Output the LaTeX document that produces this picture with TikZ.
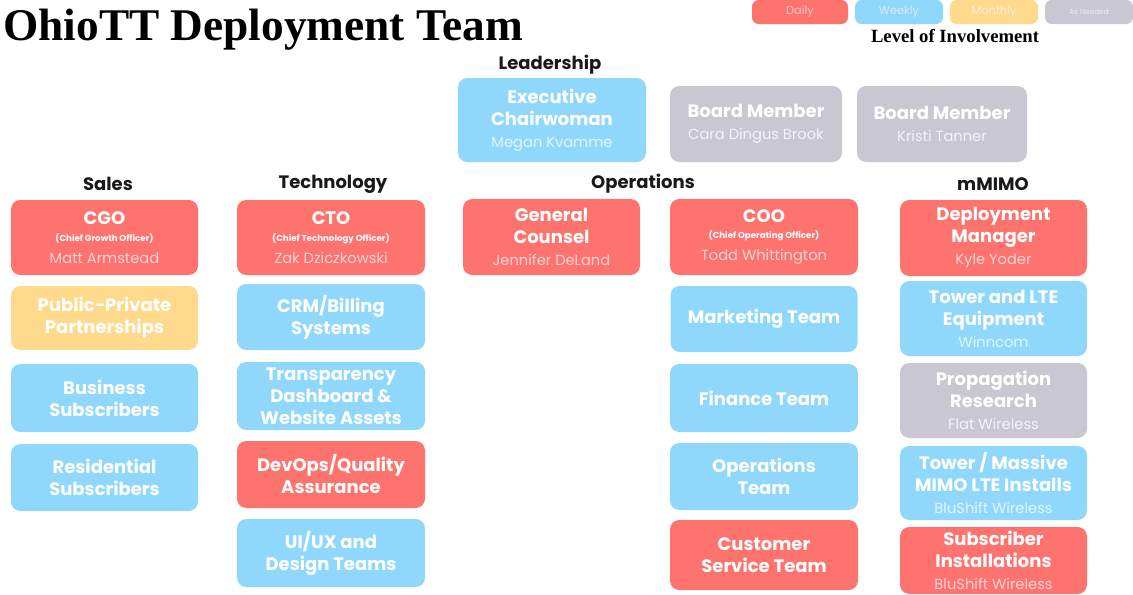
\documentclass[tikz,border=0pt]{standalone}
\usepackage{fontspec}
\setmainfont{Liberation Serif}
\newfontfamily\popfont{Poppins}
\usetikzlibrary{positioning}

\definecolor{dailyred}{HTML}{FF736F}
\definecolor{weeklyblue}{HTML}{8FD8FC}
\definecolor{monthlyyellow}{HTML}{FFD98C}
\definecolor{neededgray}{HTML}{C8C7D2}

% name line and small role line inside a card
\newcommand{\who}[1]{\\{\fontsize{11}{13}\mdseries\color{namecol}#1}}
\newcommand{\role}[1]{\\[-4pt]{\fontsize{6.5}{7}\selectfont #1}}

\tikzset{
  card/.style 2 args={rounded corners=7pt, text=white, align=center,
    minimum width=#1*0.75pt, minimum height=#2*0.75pt, inner sep=1pt,
    font=\popfont\bfseries\fontsize{13.5}{16.5}\selectfont},
  daily/.style={card={#1}, fill=dailyred,
    execute at begin node={\colorlet{namecol}{white!70!dailyred}}},
  weekly/.style={card={#1}, fill=weeklyblue,
    execute at begin node={\colorlet{namecol}{white!75!weeklyblue}}},
  monthly/.style={card={#1}, fill=monthlyyellow,
    execute at begin node={\colorlet{namecol}{white!70!monthlyyellow}}},
  asneeded/.style={card={#1}, fill=neededgray,
    execute at begin node={\colorlet{namecol}{white!80!neededgray}}},
  head/.style={font=\popfont\bfseries\fontsize{13.5}{15}\selectfont, text=black!90},
  key/.style={rounded corners=5pt, minimum width=#1*0.75pt, minimum height=18pt,
    font=\popfont\fontsize{8.5}{10}\selectfont}
}

\begin{document}
\begin{tikzpicture}[x=0.75pt,y=-0.75pt]
\useasboundingbox (0,0) rectangle (1133,594);

\node[anchor=base west, inner sep=0pt, font=\bfseries\fontsize{34}{38}\selectfont] (title) at (3,40) {OhioTT Deployment Team};

% legend
\node[key=96, fill=dailyred, text=white!60!dailyred] (kdaily) at (800,12) {Daily};
\node[key=88, fill=weeklyblue, text=white!60!weeklyblue] (kweekly) at (899,12) {Weekly};
\node[key=88, fill=monthlyyellow, text=white!60!monthlyyellow] (kmonthly) at (994,12) {Monthly};
\node[key=88, fill=neededgray, text=white!70!neededgray, font=\popfont\fontsize{5.5}{7}\selectfont] (kneeded) at (1089,12) {As Needed};
\node[font=\bfseries\fontsize{14}{16}\selectfont] (keytitle) at (955,36) {Level of Involvement};

% leadership
\node[head] (leadhead) at (550,65) {Leadership};
\node[weekly={188}{84}] (chair) at (552,120) {Executive\\Chairwoman\who{Megan Kvamme}};
\node[asneeded={172}{76}] (board1) at (756,124) {Board Member\who{Cara Dingus Brook}};
\node[asneeded={170}{76}] (board2) at (942,124) {Board Member\who{Kristi Tanner}};

% sales
\node[head] (saleshead) at (108,184) {Sales};
\node[daily={187}{75}] (cgo) at (104.5,237.5) {CGO\role{(Chief Growth Officer)}\who{Matt Armstead}};
\node[monthly={187}{64}] (ppp) at (104.5,318) {Public-Private\\Partnerships};
\node[weekly={187}{68}] (business) at (104.5,398) {Business\\Subscribers};
\node[weekly={187}{67}] (residential) at (104.5,477.5) {Residential\\Subscribers};

% technology
\node[head] (techhead) at (333,184) {Technology};
\node[daily={188}{75}] (cto) at (331,237.5) {CTO\role{(Chief Technology Officer)}\who{Zak Dziczkowski}};
\node[weekly={188}{66}] (crm) at (331,317) {CRM/Billing\\Systems};
\node[weekly={188}{68}] (transparency) at (331,396) {Transparency\\Dashboard \&\\Website Assets};
\node[daily={188}{67}] (devops) at (331,474.5) {DevOps/Quality\\Assurance};
\node[weekly={188}{68}] (uiux) at (331,553) {UI/UX and\\Design Teams};

% operations
\node[head] (opshead) at (643,184) {Operations};
\node[daily={177}{76}] (counsel) at (551.5,237) {General\\Counsel\who{Jennifer DeLand}};
\node[daily={188}{76}] (coo) at (764,237) {COO\role{(Chief Operating Officer)}\who{Todd Whittington}};
\node[weekly={187}{66}] (marketing) at (764,319) {Marketing Team};
\node[weekly={188}{68}] (finance) at (764,398) {Finance Team};
\node[weekly={188}{67}] (opsteam) at (764,476.5) {Operations\\Team};
\node[daily={188}{70}] (custserv) at (764,555) {Customer\\Service Team};

% mMIMO
\node[head] (mimohead) at (993,184) {mMIMO};
\node[daily={187}{76}] (deploy) at (993.5,238) {Deployment\\Manager\who{Kyle Yoder}};
\node[weekly={187}{75}] (tower) at (993.5,318.5) {Tower and LTE\\Equipment\who{Winncom}};
\node[asneeded={187}{75}] (propagation) at (993.5,400.5) {Propagation\\Research\who{Flat Wireless}};
\node[weekly={187}{74}] (massive) at (993.5,483) {Tower / Massive\\MIMO LTE Installs\who{BluShift Wireless}};
\node[daily={187}{67}] (subinst) at (993.5,560.5) {Subscriber\\Installations\who{BluShift Wireless}};
\end{tikzpicture}
\end{document}
